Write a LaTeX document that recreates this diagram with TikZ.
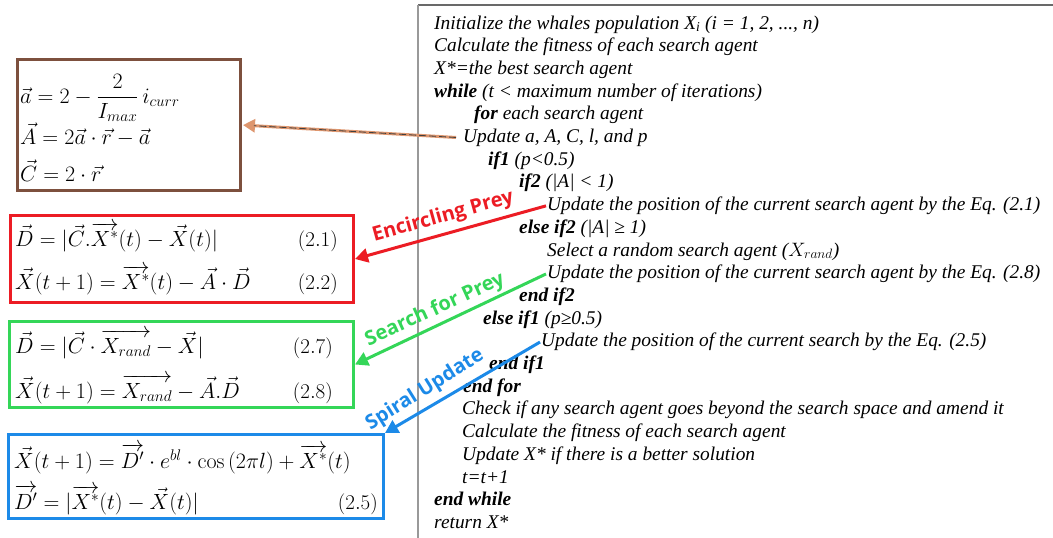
\RequirePackage{fix-cm}
\documentclass[tikz,border=0pt]{standalone}
\usepackage{amsmath}
\usepackage[no-math]{fontspec}
\setmainfont{Liberation Serif}
\newfontfamily\lblfont{Open Sans}
\usetikzlibrary{arrows.meta}
\definecolor{brownbd}{RGB}{125,80,62}
\definecolor{tanarr}{RGB}{222,150,110}
\definecolor{redc}{RGB}{236,28,36}
\definecolor{greenc}{RGB}{52,214,88}
\definecolor{bluec}{RGB}{28,138,232}
\definecolor{framegray}{RGB}{105,105,105}
\tikzset{
  eqbox/.style={draw, line width=3pt, anchor=north west, inner sep=0pt},
  eqline/.style={anchor=base west, inner sep=0pt, font=\fontsize{22}{24}\selectfont},
  eqnum/.style={anchor=base east, inner sep=0pt, font=\fontsize{21}{24}\selectfont},
  code/.style={anchor=base west, inner sep=1pt, font=\fontsize{19.4}{21}\selectfont\itshape},
  lbl/.style={inner sep=0pt, font=\fontsize{20}{22}\selectfont\lblfont\bfseries},
  conn/.style={line width=3pt, -{Triangle[length=13pt,width=14pt]}},
}
\begin{document}
\begin{tikzpicture}[x=1pt,y=-1pt]
\useasboundingbox (0,0) rectangle (1053,538);
\fill[white] (0,0) rectangle (1053,538);
% pseudocode frame
\draw[framegray, line width=2.2pt] (1053,5) -- (418,5);
\draw[black!40, line width=1.6pt] (418,5) -- (418,538);
% pseudocode lines
\node[code] (l1) at (433,29) {Initialize the whales population X\textsubscript{\itshape i} (i = 1, 2, ..., n)};
\node[code] (l2) at (433,51.7) {Calculate the fitness of each search agent};
\node[code] (l3) at (433,74.4) {X*=the best search agent};
\node[code] (l4) at (433,97.1) {\textbf{while} (t < maximum number of iterations)};
\node[code] (l5) at (473,119.8) {\textbf{for} each search agent};
\node[code] (l6) at (462,142.5) {Update a, A, C, l, and p};
\node[code] (l7) at (487,165.2) {\textbf{if1} (p<0.5)};
\node[code] (l8) at (518,187.9) {\textbf{if2} (|A| < 1)};
\node[code] (l9) at (546,210.6) {Update the position of the current search agent by the Eq. (2.1)};
\node[code] (l10) at (518,233.3) {\textbf{else if2} (|A| ≥ 1)};
\node[code] (l11) at (546,256) {Select a random search agent ($X_{rand}$)};
\node[code] (l12) at (546,278.7) {Update the position of the current search agent by the Eq. (2.8)};
\node[code] (l13) at (518,301.4) {\textbf{end if2}};
\node[code] (l14) at (482,324.1) {\textbf{else if1} (p≥0.5)};
\node[code] (l15) at (540,346.8) {Update the position of the current search by the Eq. (2.5)};
\node[code] (l16) at (488,369.5) {\textbf{end if1}};
\node[code] (l17) at (462,392.2) {\textbf{end for}};
\node[code] (l18) at (461,414.9) {Check if any search agent goes beyond the search space and amend it};
\node[code] (l19) at (461,437.6) {Calculate the fitness of each search agent};
\node[code] (l20) at (461,460.3) {Update X* if there is a better solution};
\node[code] (l21) at (461,483) {t=t+1};
\node[code] (l22) at (433,505.7) {\textbf{end while}};
\node[code] (l23) at (433,528.4) {return X*};
% brown box
\node[eqbox, draw=brownbd, minimum width=223pt, minimum height=131pt] (brownbox) at (16,58) {};
\node[eqline] (b1) at (20,103) {$\vec{a} = 2 - \dfrac{2}{I_{max}}\, i_{curr}$};
\node[eqline] (b2) at (20,144) {$\vec{A} = 2\vec{a}\cdot\vec{r} - \vec{a}$};
\node[eqline] (b3) at (20,181) {$\vec{C} = 2\cdot\vec{r}$};
% red box
\node[eqbox, draw=redc, minimum width=343pt, minimum height=87pt] (redbox) at (9,214) {};
\node[eqline] (r1) at (15,246) {$\vec{D} = |\vec{C}.\overrightarrow{X^{*}}(t) - \vec{X}(t)|$};
\node[eqnum] (r1n) at (338,246) {$(2.1)$};
\node[eqline] (r2) at (15,289) {$\vec{X}(t+1) = \overrightarrow{X^{*}}(t) - \vec{A}\cdot\vec{D}$};
\node[eqnum] (r2n) at (338,289) {$(2.2)$};
% green box
\node[eqbox, draw=greenc, minimum width=344pt, minimum height=86pt] (greenbox) at (8,320) {};
\node[eqline] (g1) at (15,353) {$\vec{D} = |\vec{C}\cdot\overrightarrow{X_{rand}} - \vec{X}|$};
\node[eqnum] (g1n) at (333,353) {$(2.7)$};
\node[eqline] (g2) at (15,398) {$\vec{X}(t+1) = \overrightarrow{X_{rand}} - \vec{A}.\vec{D}$};
\node[eqnum] (g2n) at (333,398) {$(2.8)$};
% blue box
\node[eqbox, draw=bluec, minimum width=375pt, minimum height=84pt] (bluebox) at (7,433) {};
\node[eqline] (u1) at (14,468) {$\vec{X}(t+1) = \overrightarrow{D'}\cdot e^{bl}\cdot\cos\left(2\pi l\right) + \overrightarrow{X^{*}}(t)$};
\node[eqline] (u2) at (14,509) {$\overrightarrow{D'} = |\overrightarrow{X^{*}}(t) - \vec{X}(t)|$};
\node[eqnum] (u2n) at (378,509) {$(2.5)$};
% connectors
\draw[tanarr, line width=3pt, -{Triangle[length=12pt,width=13pt]}, shorten >=1pt, shorten <=6pt] (l6.west) -- (brownbox.east);
\draw[black!75, line width=0.8pt, dash pattern=on 7pt off 3pt, shorten >=12pt, shorten <=6pt] (l6.west) -- (brownbox.east);
\draw[conn, redc] (l9.west) -- (redbox.east);
\draw[conn, greenc] (l12.west) -- (greenbox.east);
\draw[conn, bluec] (l15.west) -- (bluebox.north east);
% labels
\node[lbl, text=redc, rotate=15.5] (lred) at (443,217) {Encircling Prey};
\node[lbl, text=greenc, rotate=24.5] (lgreen) at (435,310) {Search for Prey};
\node[lbl, text=bluec, rotate=32] (lblue) at (425,390) {Spiral Update};
\end{tikzpicture}
\end{document}
